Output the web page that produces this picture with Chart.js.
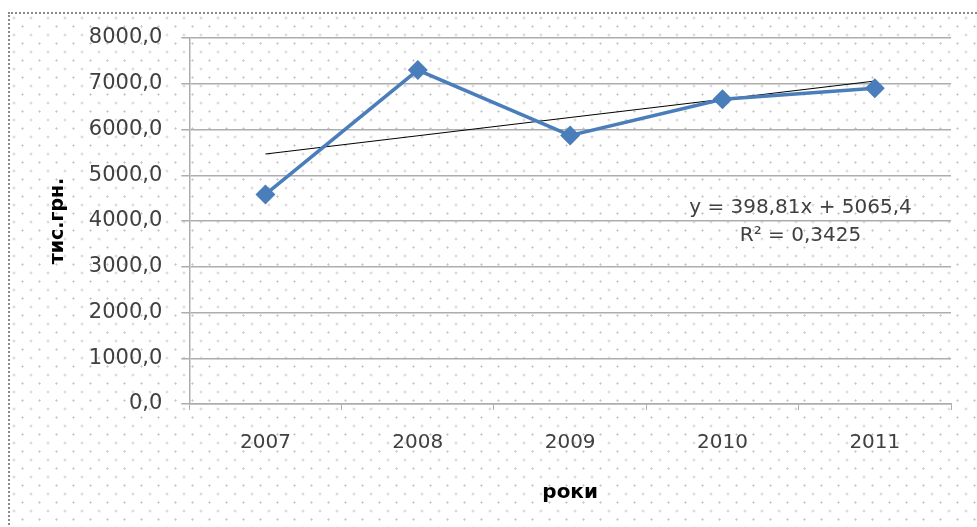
<!DOCTYPE html>
<html>
<head>
<meta charset="utf-8">
<script src="https://cdn.jsdelivr.net/npm/chart.js@4.4.0/dist/chart.umd.min.js"></script>
<style>
  html, body { margin: 0; padding: 0; background: #fff; }
  #frame {
    position: absolute; left: 8px; top: 12px; width: 1000px; height: 540px;
    border: 2px dotted #8a8a8a;
    background-color: #fff;
    background-image:
      radial-gradient(circle, #c8c8c8 0.9px, transparent 1.3px),
      radial-gradient(circle, #c8c8c8 0.9px, transparent 1.3px);
    background-size: 17px 17px, 17px 17px;
    background-position: 4px 4px, 12.5px 12.5px;
  }
  #wrap { position: absolute; left: 0; top: 0; width: 977px; height: 527px; }
</style>
</head>
<body>
<div id="frame"></div>
<div id="wrap"><canvas id="myChart" width="977" height="527"></canvas></div>
<script>
// Дані діаграми
const roky = ['2007', '2008', '2009', '2010', '2011'];
const znachennia = [4580, 7300, 5870, 6660, 6900];
// Лінія тренду (лінійна), значення в точках категорій
const trend = [5464, 5863, 6262, 6660, 7059];
const rivniannia = ['y = 398,81x + 5065,4', 'R² = 0,3425'];

const fontFam = '"DejaVu Sans", sans-serif';
const gridColor = '#adadad';

// Підпис рівняння тренду
const trendLabel = {
    id: 'trendLabel',
    afterDatasetsDraw(chart) {
        const c = chart.ctx;
        const x = chart.scales.x.getPixelForValue(3) + 78;
        const y = chart.scales.y.getPixelForValue(4290);
        c.save();
        c.font = '20px ' + fontFam;
        c.fillStyle = '#404040';
        c.textAlign = 'center';
        c.textBaseline = 'middle';
        c.fillText(rivniannia[0], x, y);
        c.fillText(rivniannia[1], x, y + 28);
        c.restore();
    }
};

const ctx = document.getElementById('myChart');

new Chart(ctx, {
    type: 'line',
    data: {
        labels: roky,
        datasets: [{
            label: 'тис.грн.',
            data: znachennia,
            borderColor: '#4a7ebb',
            backgroundColor: '#4a7ebb',
            borderWidth: 3.5,
            pointStyle: 'rectRot',
            pointRadius: 7.5,
            pointHoverRadius: 7.5,
            tension: 0
        }, {
            label: 'тренд',
            data: trend,
            borderColor: '#000',
            borderWidth: 1,
            pointRadius: 0,
            tension: 0
        }]
    },
    options: {
        responsive: false,
        animation: false,
        layout: { padding: { left: 47, right: 26, top: 38, bottom: 18 } },
        plugins: {
            legend: { display: false },
            tooltip: { enabled: false }
        },
        scales: {
            x: {
                offset: true,
                grid: {
                    offset: true,
                    drawOnChartArea: false,
                    drawTicks: true,
                    tickLength: 6,
                    color: gridColor
                },
                border: { display: true, color: gridColor, width: 1.5 },
                ticks: { color: '#404040', font: { family: fontFam, size: 20 }, padding: 21 },
                title: {
                    display: true, text: 'роки', color: '#000',
                    font: { family: fontFam, size: 20, weight: 'bold' }, padding: { top: 5 }
                }
            },
            y: {
                min: 0, max: 8000,
                ticks: {
                    stepSize: 1000, color: '#404040', padding: 19,
                    font: { family: fontFam, size: 21 },
                    callback: v => v.toFixed(1).replace('.', ',')
                },
                grid: { color: gridColor, lineWidth: 1.5, tickLength: 8 },
                border: { display: true, color: gridColor, width: 1.5 },
                title: {
                    display: true, text: 'тис.грн.', color: '#000',
                    font: { family: fontFam, size: 19, weight: 'bold' }, padding: { top: 0, bottom: 0 }
                }
            }
        }
    },
    plugins: [trendLabel]
});
</script>
</body>
</html>
